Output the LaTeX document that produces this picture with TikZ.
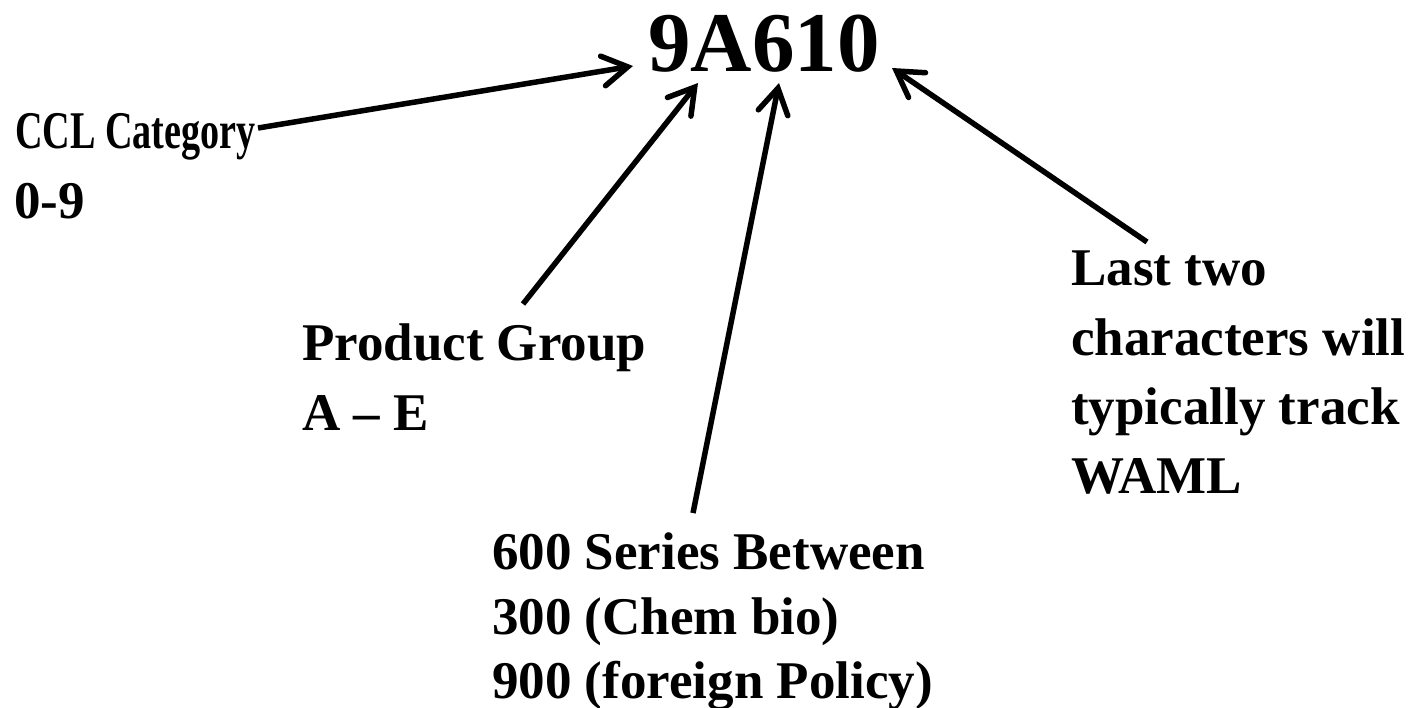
\documentclass[tikz,border=0pt]{standalone}
\usepackage{fontspec}
\usepackage{graphicx}
\setmainfont{Liberation Serif}
\usetikzlibrary{arrows.meta}
\begin{document}
\begin{tikzpicture}[x=1pt,y=-1pt,
  txt/.style={anchor=base west, inner sep=0pt, font=\fontsize{53}{64}\bfseries\selectfont},
  big/.style={anchor=base west, inner sep=0pt, font=\fontsize{85}{100}\bfseries\selectfont},
  conn/.style={line width=5.5pt, -{Straight Barb[length=25pt,width=30pt,line cap=round]}}]
\useasboundingbox (0,0) rectangle (1412,707);
\node[big] (code) at (648,71) {9A610};
\node[txt] (ccl1) at (15,148) {\scalebox{0.72}[1]{CCL Category}};
\node[txt] (ccl2) at (14,218) {0-9};
\node[txt] (pg1) at (302,360) {Product Group};
\node[txt] (pg2) at (302,430) {A – E};
\node[txt] (s1) at (492,569) {600 Series Between};
\node[txt] (s2) at (492,634) {300 (Chem bio)};
\node[txt] (s3) at (492,698) {900 (foreign Policy)};
\node[txt] (l1) at (1071,285) {Last two};
\node[txt] (l2) at (1071,355) {characters will};
\node[txt] (l3) at (1071,424) {typically track};
\node[txt] (l4) at (1071,493) {WAML};
\coordinate (cclS) at (258,128);
\coordinate (cclT) at (633,66);
\coordinate (pgS) at (523,304);
\coordinate (pgT) at (698,83);
\coordinate (sS) at (693,513);
\coordinate (sT) at (779,83);
\coordinate (lS) at (1147,242);
\coordinate (lT) at (892,68);
\draw[conn] (cclS) -- (cclT);
\draw[conn] (pgS) -- (pgT);
\draw[conn] (sS) -- (sT);
\draw[conn] (lS) -- (lT);
\end{tikzpicture}
\end{document}
